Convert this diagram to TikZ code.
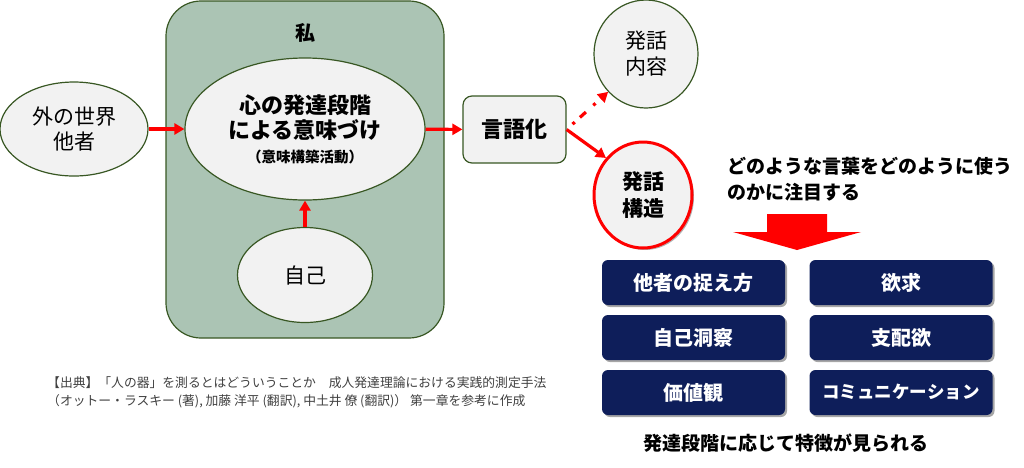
\documentclass[tikz,border=0pt]{standalone}
\usepackage{fontspec}
\setmainfont{Noto Sans CJK JP}
\usetikzlibrary{arrows.meta,positioning,shapes.geometric,shadows}
\definecolor{panelgreen}{RGB}{171,196,180}
\definecolor{darkgreen}{RGB}{56,87,35}
\definecolor{ovalgray}{RGB}{242,242,242}
\definecolor{traitnavy}{RGB}{14,30,90}
\definecolor{citegray}{RGB}{64,64,64}
\tikzset{
  oval/.style={ellipse,draw=darkgreen,line width=1.2pt,fill=ovalgray,inner sep=0pt,align=center},
  redarrow/.style={draw=red,line width=3.2pt,-{Triangle[length=10pt,width=11pt]}},
  trait/.style={rounded corners=6pt,fill=traitnavy,text=white,minimum width=183pt,minimum height=45pt,
    font=\fontsize{20}{24}\selectfont\bfseries,
    drop shadow={shadow xshift=2pt,shadow yshift=-2pt,opacity=0.35,fill=black}}
}
\begin{document}
\begin{tikzpicture}[x=1pt,y=-1pt]
        \useasboundingbox (0,0) rectangle (1024,467);
        % draw green panel
        \node[draw=darkgreen,line width=1.2pt,fill=panelgreen,rounded corners=35pt,minimum width=278pt,minimum height=337pt] (me) at (305,169.5) {};
        \node[font=\fontsize{20}{24}\selectfont\bfseries] (melabel) at (305,33) {私};
        % draw ovals
        \node[oval,minimum width=240pt,minimum height=142pt,font=\fontsize{22}{25}\selectfont\bfseries] (meaning) at (305,129)
          {心の発達段階\\による意味づけ\\[-1pt]{\fontsize{14.5}{16}\selectfont（意味構築活動）}};
        \node[oval,minimum width=148pt,minimum height=94pt,font=\fontsize{21}{25}\selectfont] (outer) at (74,129) {外の世界\\他者};
        \node[oval,minimum width=135pt,minimum height=95pt,font=\fontsize{21}{25}\selectfont] (self) at (305,275) {自己};
        \node[draw=darkgreen,line width=1.2pt,fill=ovalgray,rounded corners=9pt,minimum width=103pt,minimum height=67pt,font=\fontsize{22}{25}\selectfont\bfseries] (verbal) at (514.5,129.5) {言語化};
        \node[oval,minimum width=104pt,minimum height=108pt,font=\fontsize{21}{26}\selectfont] (content) at (646,54) {発話\\内容};
        \node[oval,draw=red,line width=3pt,minimum width=98pt,minimum height=106pt,font=\fontsize{21}{27}\selectfont\bfseries,
          drop shadow={shadow xshift=2pt,shadow yshift=-2pt,opacity=0.3,fill=black}] (structure) at (643,195) {発話\\構造};
        % draw arrows
        \draw[redarrow] (outer) -- (meaning);
        \draw[redarrow] (self) -- (meaning);
        \draw[redarrow] (meaning) -- (verbal);
        \draw[redarrow] (verbal.east) -- (structure.135);
        \draw[redarrow,dash pattern=on 0pt off 8pt on 3pt off 7pt on 8pt off 2pt] (verbal.east) -- (content.225);
        % draw focus text and block arrow
        \node[anchor=west,align=left,font=\fontsize{19}{26}\selectfont\bfseries] (focus) at (724,179)
          {どのような言葉をどのように使う\\のかに注目する};
        \fill[red] (767,214) -- (827,214) -- (827,232) -- (861,232) -- (797,250) -- (733,232) -- (767,232) -- cycle;
        % draw trait boxes
        \foreach \nm/\x/\y/\txt in {other/693.5/282.5/他者の捉え方,desire/901/282.5/欲求,
          insight/693.5/337.5/自己洞察,control/901/337.5/支配欲,
          value/693.5/392.5/価値観}
        \node[trait] (\nm) at (\x,\y) {\txt};
        \node[trait,font=\fontsize{17.5}{20}\selectfont\bfseries] (comm) at (901,392.5) {コミュニケーション};
        \node[font=\fontsize{19}{22}\selectfont\bfseries] (stage) at (785.5,443) {発達段階に応じて特徴が見られる};
        % draw citation
        \node[anchor=west,align=left,text=citegray,font=\fontsize{12.8}{18}\selectfont,inner sep=0pt] (cite) at (47,392)
          {【出典】「人の器」を測るとはどういうことか　成人発達理論における実践的測定手法\\
           （オットー・ラスキー (著), 加藤 洋平 (翻訳), 中土井 僚 (翻訳)） 第一章を参考に作成};
\end{tikzpicture}
\end{document}
